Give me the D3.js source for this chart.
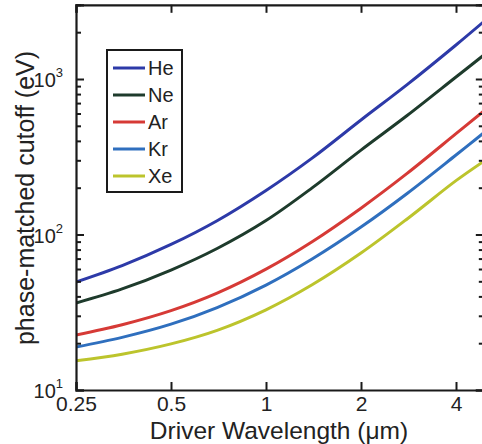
<!DOCTYPE html>
<html>
<head>
<meta charset="utf-8">
<script src="https://cdn.jsdelivr.net/npm/d3@7"></script>
<style>
  html, body { margin: 0; padding: 0; background: #fff; }
  svg { display: block; font-family: "Liberation Sans", Arial, Helvetica, sans-serif; }
</style>
</head>
<body>
<div id="chart"></div>
<script>
const width = 482;
const height = 444;

// Driver wavelength (um) and phase-matched cutoff (eV) per gas
const wavelengths = [0.25, 0.35, 0.5, 0.7, 1, 1.4, 2, 2.8, 4, 4.9];
const gases = ["He", "Ne", "Ar", "Kr", "Xe"];
const heCutoff = [49.5, 63.1, 86.3, 122.7, 192, 310, 545, 920, 1655, 2340];
const neCutoff = [36.3, 44.7, 59.1, 81.3, 123, 199.5, 349, 582, 1030, 1425];
const arCutoff = [22.6, 26.3, 32.4, 42.0, 59.9, 89.9, 147.7, 247, 445, 623];
const krCutoff = [18.9, 21.8, 26.5, 33.9, 47.3, 69.6, 111.7, 183.6, 324.5, 451];
const xeCutoff = [15.4, 17.0, 19.8, 24.2, 32.8, 47.5, 76.0, 125.9, 222, 296];
const xTicks = [0.25, 0.5, 1, 2, 4];
const yTicks = [10, 100, 1000];
const colors = ["#2d3aa8", "#1e3b2c", "#d63a36", "#2f6fbe", "#bcc42c"];

const series = [heCutoff, neCutoff, arCutoff, krCutoff, xeCutoff].map((vals, i) => ({
  name: gases[i],
  color: colors[i],
  points: vals.map((v, j) => [wavelengths[j], v])
}));

// plot box
const plotLeft = 76, plotBottom = 390;
const perOctave = 95, perDecade = 155.5;
const xMax = 4.9, yMax = 3000;
const plotRight = plotLeft + perOctave * Math.log2(xMax / 0.25);
const plotTop = plotBottom - perDecade * Math.log10(yMax / 10);

const x = d3.scaleLog().domain([0.25, xMax]).range([plotLeft, plotRight]);
const y = d3.scaleLog().domain([10, yMax]).range([plotBottom, plotTop]);

const svg = d3.select("#chart")
  .append("svg")
  .attr("width", width)
  .attr("height", height);

svg.append("clipPath").attr("id", "plot-clip")
  .append("rect")
  .attr("x", plotLeft).attr("y", plotTop)
  .attr("width", plotRight - plotLeft).attr("height", plotBottom - plotTop);

// lines
const line = d3.line()
  .x(d => x(d[0]))
  .y(d => y(d[1]))
  .curve(d3.curveCatmullRom.alpha(0.5));

svg.append("g")
  .attr("clip-path", "url(#plot-clip)")
  .selectAll("path")
  .data(series)
  .enter()
  .append("path")
  .attr("d", d => line(d.points))
  .attr("fill", "none")
  .attr("stroke", d => d.color)
  .attr("stroke-width", 3);

// axes, ticks pointing inward, mirrored on top/right
const axisColor = "#1a1a1a";
const minorY = [];
[10, 100, 1000].forEach(dec => {
  for (let k = 2; k <= 9; k++) if (dec * k <= yMax) minorY.push(dec * k);
});

const xAxis = svg.append("g").attr("transform", `translate(0,${plotBottom})`)
  .call(d3.axisBottom(x).tickValues(xTicks).tickSize(-8).tickFormat(d3.format("")).tickPadding(6));
const xTop = svg.append("g").attr("transform", `translate(0,${plotTop})`)
  .call(d3.axisTop(x).tickValues(xTicks).tickSize(-8).tickFormat(""));

const yAxis = svg.append("g").attr("transform", `translate(${plotLeft},0)`)
  .call(d3.axisLeft(y).tickValues(yTicks).tickSize(-8).tickFormat(""));
const yMinor = svg.append("g").attr("transform", `translate(${plotLeft},0)`)
  .call(d3.axisLeft(y).tickValues(minorY).tickSize(-5).tickFormat(""));
const yRight = svg.append("g").attr("transform", `translate(${plotRight},0)`)
  .call(d3.axisRight(y).tickValues(yTicks).tickSize(-8).tickFormat(""));
const yRightMinor = svg.append("g").attr("transform", `translate(${plotRight},0)`)
  .call(d3.axisRight(y).tickValues(minorY).tickSize(-5).tickFormat(""));

[xAxis, xTop, yAxis, yMinor, yRight, yRightMinor].forEach(g => {
  g.selectAll("path.domain").attr("stroke", axisColor).attr("stroke-width", 2.2);
  g.selectAll(".tick line").attr("stroke", axisColor).attr("stroke-width", 2);
});
[yMinor, yRightMinor].forEach(g => g.select("path.domain").remove());

xAxis.selectAll(".tick text")
  .attr("font-size", 21)
  .attr("fill", "#222")
  .attr("dy", "0.71em");

// y tick labels as 10 with superscript exponent
const yLab = svg.append("g");
yTicks.forEach(v => {
  const t = yLab.append("text")
    .attr("x", plotLeft - 13)
    .attr("y", y(v) + 8)
    .attr("text-anchor", "end")
    .attr("font-size", 20)
    .attr("fill", "#222");
  t.append("tspan").text("10");
  t.append("tspan")
    .attr("font-size", 13)
    .attr("dy", -10)
    .text(Math.round(Math.log10(v)));
});

// axis titles
svg.append("text")
  .attr("x", 279)
  .attr("y", 439)
  .attr("text-anchor", "middle")
  .attr("font-size", 24.5)
  .attr("fill", "#222")
  .text("Driver Wavelength (μm)");

svg.append("text")
  .attr("transform", "translate(34,198) rotate(-90)")
  .attr("text-anchor", "middle")
  .attr("font-size", 25)
  .attr("fill", "#222")
  .text("phase-matched cutoff (eV)");

// legend
const legend = svg.append("g").attr("transform", "translate(107,50)");
legend.append("rect")
  .attr("width", 75)
  .attr("height", 142)
  .attr("fill", "#fff")
  .attr("stroke", axisColor)
  .attr("stroke-width", 2);

const item = legend.selectAll("g.item")
  .data(series)
  .enter()
  .append("g")
  .attr("class", "item")
  .attr("transform", (d, i) => `translate(0,${18 + i * 27})`);

item.append("line")
  .attr("x1", 6).attr("x2", 38)
  .attr("stroke", d => d.color)
  .attr("stroke-width", 3);

item.append("text")
  .attr("x", 41)
  .attr("y", 7)
  .attr("font-size", 20)
  .attr("fill", "#222")
  .text(d => d.name);
</script>
</body>
</html>
